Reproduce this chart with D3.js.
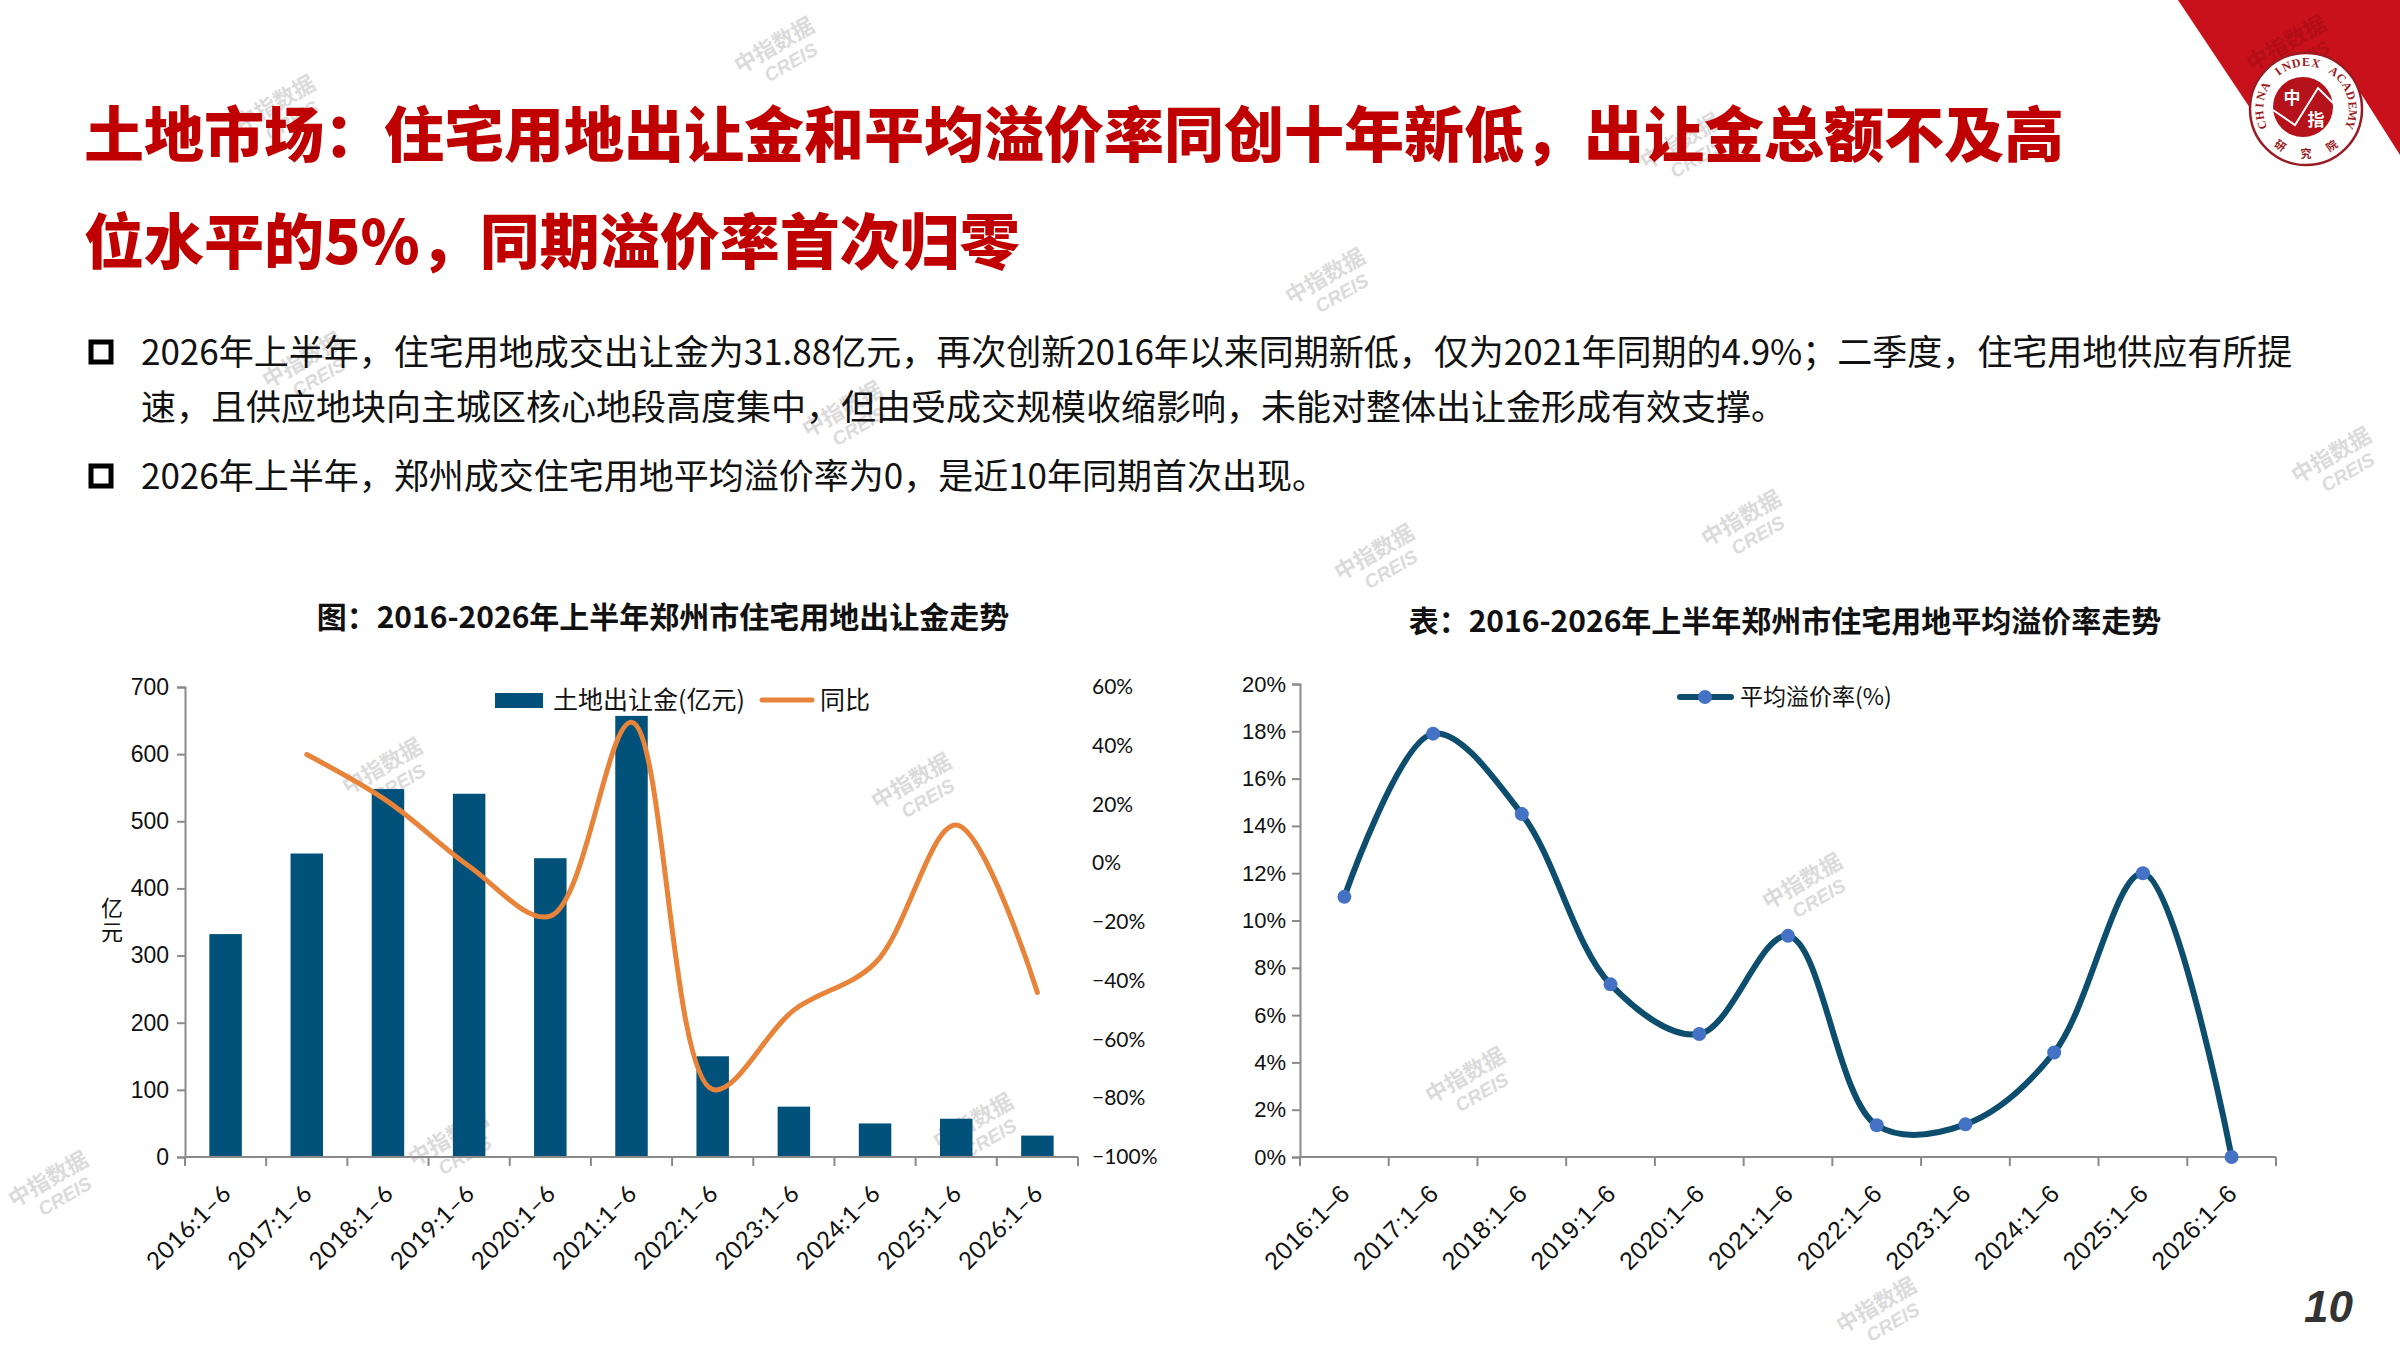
<!DOCTYPE html>
<html><head><meta charset="utf-8">
<script src="https://cdn.jsdelivr.net/npm/d3@7"></script>
<style>body{margin:0;background:#fff}svg{display:block}</style>
</head><body>
<script>
// ---------------- data ----------------
const categories = ["2016:1–6","2017:1–6","2018:1–6","2019:1–6","2020:1–6","2021:1–6","2022:1–6","2023:1–6","2024:1–6","2025:1–6","2026:1–6"];
const landRevenue = [332, 452, 548, 541, 445, 657, 150, 75, 50, 57, 31.88];      // 亿元
const yoyGrowth   = [null, 37, 21, -1, -18, 48, -77, -50, -34, 13, -44];           // %
const premiumRate = [11.0, 17.9, 14.5, 7.3, 5.2, 9.35, 1.34, 1.38, 4.42, 12.0, 0]; // %
const revenueTicks = [0, 100, 200, 300, 400, 500, 600, 700];
const yoyTicks     = [-100, -80, -60, -40, -20, 0, 20, 40, 60];
const premiumTicks = [0, 2, 4, 6, 8, 10, 12, 14, 16, 18, 20];

const titleLines = ["土地市场：住宅用地出让金和平均溢价率同创十年新低，出让金总额不及高", "位水平的5%，同期溢价率首次归零"];
const bullet1 = ["2026年上半年，住宅用地成交出让金为31.88亿元，再次创新2016年以来同期新低，仅为2021年同期的4.9%；二季度，住宅用地供应有所提",
                 "速，且供应地块向主城区核心地段高度集中，但由受成交规模收缩影响，未能对整体出让金形成有效支撑。"];
const bullet2 = "2026年上半年，郑州成交住宅用地平均溢价率为0，是近10年同期首次出现。";
const leftTitle  = "图：2016-2026年上半年郑州市住宅用地出让金走势";
const rightTitle = "表：2016-2026年上半年郑州市住宅用地平均溢价率走势";
const legendLeft = ["土地出让金(亿元)", "同比"];
const legendRight = "平均溢价率(%)";
const unitLabel = "亿元";

// ---------------- styles ----------------
const CJK = "'Noto Sans CJK SC','Noto Sans',sans-serif";
const NARROW = "'Liberation Sans Narrow','Liberation Sans','Arial Narrow',sans-serif";
const GILL = "Lato,'Open Sans',sans-serif";
const RED = "#C00000";
const BAR = "#02517A";
const ORANGE = "#E8833A";
const LINE = "#0D4D6D";
const MARK = "#4472C4";
const AXIS = "#8a8a8a";

const W = 2400, H = 1350;
const svg = d3.select("body").append("svg").attr("width", W).attr("height", H)
  .attr("viewBox", `0 0 ${W} ${H}`);
svg.append("rect").attr("width", W).attr("height", H).attr("fill", "#fff");

// ---------------- watermarks ----------------
const wmPos = [[778,52],[279,110],[1329,283],[306,367],[846,416],[1684,148],[2335,462],[1745,525],[1378,559],
               [386,773],[915,788],[1806,888],[1469,1082],[452,1145],[977,1128],[1880,1312],[52,1186]];
const wm = svg.append("g").attr("class", "watermarks");
wmPos.forEach(p => {
  const g = wm.append("g").attr("transform", `translate(${p[0]},${p[1]}) rotate(-30)`).attr("opacity", 0.5);
  g.append("text").attr("text-anchor", "middle").attr("font-family", CJK).attr("font-weight", 700)
    .attr("font-size", 22).attr("fill", "#b8b8b8").text("中指数据");
  g.append("text").attr("text-anchor", "middle").attr("y", 22).attr("x", 6).attr("font-family", "'Liberation Sans',sans-serif")
    .attr("font-weight", 700).attr("font-style", "italic").attr("font-size", 19).attr("fill", "#b8b8b8").text("CREIS");
});

// ---------------- corner decoration & logo ----------------
svg.append("polygon")
  .attr("points", [[2178,0],[2400,0],[2400,155],[2360,92],[2300,105],[2250,108]].map(p => p.join(",")).join(" "))
  .attr("fill", "#C9111B");
{
  const g = svg.append("g").attr("transform", "translate(2290,50) rotate(-30)").attr("opacity", 0.35);
  g.append("text").attr("text-anchor", "middle").attr("font-family", CJK).attr("font-weight", 700)
    .attr("font-size", 22).attr("fill", "#8a0a10").text("中指数据");
  g.append("text").attr("text-anchor", "middle").attr("y", 22).attr("x", 6).attr("font-family", "'Liberation Sans',sans-serif")
    .attr("font-weight", 700).attr("font-style", "italic").attr("font-size", 19).attr("fill", "#8a0a10").text("CREIS");
}
const lcx = 2306, lcy = 109;
const logo = svg.append("g");
logo.append("circle").attr("cx", lcx).attr("cy", lcy).attr("r", 56).attr("fill", "#fff")
  .attr("stroke", "#9b1b22").attr("stroke-width", 2.5);
const pa = (a, r) => [lcx + r * Math.cos(a * Math.PI / 180), lcy + r * Math.sin(a * Math.PI / 180)];
const ringText = "CHINA INDEX ACADEMY".split("");
const aStart = 160, aEnd = 380, aStep = (aEnd - aStart) / (ringText.length - 1);
ringText.forEach((ch, i) => {
  if (ch === " ") return;
  const a = aStart + i * aStep, p = pa(a, 47);
  logo.append("text").attr("x", p[0]).attr("y", p[1]).attr("dy", "0.35em").attr("text-anchor", "middle")
    .attr("transform", `rotate(${a + 90},${p[0]},${p[1]})`)
    .attr("font-family", "'Liberation Serif','DejaVu Serif',serif").attr("font-weight", 700)
    .attr("font-size", 12).attr("fill", "#9b1b22").text(ch);
});
["研","究","院"].forEach((ch, i) => {
  const a = 125 - i * 35, p = pa(a, 45);
  logo.append("text").attr("x", p[0]).attr("y", p[1]).attr("dy", "0.35em").attr("text-anchor", "middle")
    .attr("transform", `rotate(${a - 90},${p[0]},${p[1]})`)
    .attr("font-family", CJK).attr("font-size", 11).attr("font-weight", 700).attr("fill", "#9b1b22").text(ch);
});
logo.append("circle").attr("cx", lcx - 3).attr("cy", lcy - 2).attr("r", 30).attr("fill", "#B5121B");
logo.append("polyline").attr("points", "2273,110 2295,125 2318,88 2333,103")
  .attr("fill", "none").attr("stroke", "#fff").attr("stroke-width", 2);
logo.append("text").attr("x", 2292).attr("y", 104).attr("text-anchor", "middle").attr("font-family", CJK)
  .attr("font-weight", 700).attr("font-size", 17).attr("fill", "#fff").text("中");
logo.append("text").attr("x", 2316).attr("y", 126).attr("text-anchor", "middle").attr("font-family", CJK)
  .attr("font-weight", 700).attr("font-size", 17).attr("fill", "#fff").text("指");

// ---------------- headline & bullets ----------------
svg.append("g").selectAll("text").data(titleLines).join("text")
  .attr("x", 84).attr("y", (d, i) => 157 + i * 107)
  .attr("font-family", CJK).attr("font-weight", 900).attr("font-size", 60).attr("fill", RED).text(d => d);

const bodyG = svg.append("g").attr("font-family", CJK).attr("font-size", 35).attr("fill", "#111");
bodyG.append("text").attr("x", 141).attr("y", 365).text(bullet1[0]);
bodyG.append("text").attr("x", 141).attr("y", 420).text(bullet1[1]);
bodyG.append("text").attr("x", 141).attr("y", 489).text(bullet2);
[352, 476].forEach(cy => {
  svg.append("rect").attr("x", 91).attr("y", cy - 10).attr("width", 20).attr("height", 20)
    .attr("fill", "none").attr("stroke", "#000").attr("stroke-width", 5);
});

// ---------------- left chart ----------------
const L = {x0: 185, x1: 1078, y0: 1157, y1: 687};
const xL = d3.scaleBand().domain(categories).range([L.x0, L.x1]).paddingInner(0.6).paddingOuter(0.3);
const yL = d3.scaleLinear().domain([0, 700]).range([L.y0, L.y1]);
const yR = d3.scaleLinear().domain([-100, 60]).range([L.y0, L.y1]);

svg.append("text").attr("x", 663).attr("y", 628).attr("text-anchor", "middle")
  .attr("font-family", CJK).attr("font-weight", 700).attr("font-size", 30).attr("fill", "#111").text(leftTitle);

const gL = svg.append("g");
// bars
gL.append("g").selectAll("rect").data(categories).join("rect")
  .attr("x", d => xL(d)).attr("width", xL.bandwidth())
  .attr("y", (d, i) => yL(landRevenue[i])).attr("height", (d, i) => yL(0) - yL(landRevenue[i]))
  .attr("fill", BAR);
// left axis
const axL = gL.append("g").attr("transform", `translate(${L.x0},0)`)
  .call(d3.axisLeft(yL).tickValues(revenueTicks).tickSize(8).tickPadding(8).tickFormat(d3.format("d")));
axL.select(".domain").attr("stroke", AXIS).attr("stroke-width", 2);
axL.selectAll(".tick line").attr("stroke", AXIS).attr("stroke-width", 2);
axL.selectAll(".tick text").attr("font-family", NARROW).attr("font-size", 23).attr("fill", "#111");
// right axis (labels only)
const axR = gL.append("g").attr("transform", `translate(${L.x1 + 6},0)`)
  .call(d3.axisRight(yR).tickValues(yoyTicks).tickSize(0).tickPadding(8).tickFormat(d => d + "%"));
axR.select(".domain").remove();
axR.selectAll(".tick text").attr("font-family", GILL).attr("font-size", 21).attr("fill", "#111")
  .text(d => (d < 0 ? "−" + Math.abs(d) : d) + "%");
// x axis
const stepL = xL.step();
const bL = categories.map(c => xL(c) - xL.paddingInner() * stepL / 2).concat([L.x1]);
gL.append("line").attr("x1", L.x0).attr("x2", L.x1).attr("y1", L.y0).attr("y2", L.y0)
  .attr("stroke", AXIS).attr("stroke-width", 2);
gL.append("g").selectAll("line").data(bL).join("line")
  .attr("x1", d => d).attr("x2", d => d).attr("y1", L.y0).attr("y2", L.y0 + 9)
  .attr("stroke", AXIS).attr("stroke-width", 2);
gL.append("g").selectAll("text").data(categories).join("text")
  .attr("transform", d => `translate(${xL(d) + xL.bandwidth() / 2 + 7},${L.y0 + 38}) rotate(-45)`)
  .attr("text-anchor", "end").attr("font-family", GILL).attr("font-size", 24).attr("letter-spacing", 0.5)
  .attr("fill", "#111").text(d => d);
// yoy line
const yoyLine = d3.line().defined(d => d.v != null)
  .x(d => xL(d.c) + xL.bandwidth() / 2).y(d => yR(d.v)).curve(d3.curveCatmullRom.alpha(0.5));
gL.append("path").datum(categories.map((c, i) => ({c, v: yoyGrowth[i]})))
  .attr("d", yoyLine).attr("fill", "none").attr("stroke", ORANGE).attr("stroke-width", 5).attr("stroke-linecap", "round");
// y-unit label (vertical)
gL.append("text").attr("x", 112).attr("y", 897)
  .style("writing-mode", "vertical-rl").attr("letter-spacing", 2)
  .attr("font-family", CJK).attr("font-size", 22).attr("fill", "#111").text(unitLabel);
// legend
gL.append("rect").attr("x", 495).attr("y", 693).attr("width", 48).attr("height", 15).attr("fill", BAR);
gL.append("text").attr("x", 553).attr("y", 709).attr("font-family", CJK).attr("font-size", 25).attr("fill", "#111").text(legendLeft[0]);
gL.append("line").attr("x1", 762).attr("x2", 812).attr("y1", 700).attr("y2", 700)
  .attr("stroke", ORANGE).attr("stroke-width", 5).attr("stroke-linecap", "round");
gL.append("text").attr("x", 820).attr("y", 709).attr("font-family", CJK).attr("font-size", 25).attr("fill", "#111").text(legendLeft[1]);

// ---------------- right chart ----------------
const R = {x0: 1300, x1: 2276, y0: 1157, y1: 684};
const xP = d3.scaleBand().domain(categories).range([R.x0, R.x1]);
const yP = d3.scaleLinear().domain([0, 20]).range([R.y0, R.y1]);

svg.append("text").attr("x", 1785).attr("y", 632).attr("text-anchor", "middle")
  .attr("font-family", CJK).attr("font-weight", 700).attr("font-size", 30).attr("fill", "#111").text(rightTitle);

const gR = svg.append("g");
const axP = gR.append("g").attr("transform", `translate(${R.x0},0)`)
  .call(d3.axisLeft(yP).tickValues(premiumTicks).tickSize(8).tickPadding(6).tickFormat(d => d + "%"));
axP.select(".domain").attr("stroke", AXIS).attr("stroke-width", 2);
axP.selectAll(".tick line").attr("stroke", AXIS).attr("stroke-width", 2);
axP.selectAll(".tick text").attr("font-family", NARROW).attr("font-size", 22).attr("fill", "#111");
const bP = categories.map(c => xP(c)).concat([R.x1]);
gR.append("line").attr("x1", R.x0).attr("x2", R.x1).attr("y1", R.y0).attr("y2", R.y0)
  .attr("stroke", AXIS).attr("stroke-width", 2);
gR.append("g").selectAll("line").data(bP).join("line")
  .attr("x1", d => d).attr("x2", d => d).attr("y1", R.y0).attr("y2", R.y0 + 9)
  .attr("stroke", AXIS).attr("stroke-width", 2);
gR.append("g").selectAll("text").data(categories).join("text")
  .attr("transform", d => `translate(${xP(d) + xP.bandwidth() / 2 + 7},${R.y0 + 38}) rotate(-45)`)
  .attr("text-anchor", "end").attr("font-family", NARROW).attr("font-size", 25).attr("letter-spacing", 0.5)
  .attr("fill", "#111").text(d => d);
const premLine = d3.line().x(d => xP(d.c) + xP.bandwidth() / 2).y(d => yP(d.v)).curve(d3.curveCatmullRom.alpha(0.5));
const premData = categories.map((c, i) => ({c, v: premiumRate[i]}));
gR.append("path").datum(premData).attr("d", premLine).attr("fill", "none")
  .attr("stroke", LINE).attr("stroke-width", 6).attr("stroke-linecap", "round");
gR.append("g").selectAll("circle").data(premData).join("circle")
  .attr("cx", d => xP(d.c) + xP.bandwidth() / 2).attr("cy", d => yP(d.v)).attr("r", 7).attr("fill", MARK);
// legend
gR.append("line").attr("x1", 1680).attr("x2", 1731).attr("y1", 697).attr("y2", 697)
  .attr("stroke", LINE).attr("stroke-width", 6).attr("stroke-linecap", "round");
gR.append("circle").attr("cx", 1705).attr("cy", 697).attr("r", 7).attr("fill", MARK);
gR.append("text").attr("x", 1740).attr("y", 705).attr("font-family", CJK).attr("font-size", 23).attr("fill", "#111").text(legendRight);

// ---------------- page number ----------------
svg.append("text").attr("x", 2353).attr("y", 1322).attr("text-anchor", "end")
  .attr("font-family", "'Liberation Sans',Arial,sans-serif").attr("font-weight", 700).attr("font-style", "italic")
  .attr("font-size", 44).attr("fill", "#333").text("10");
</script>
</body></html>
